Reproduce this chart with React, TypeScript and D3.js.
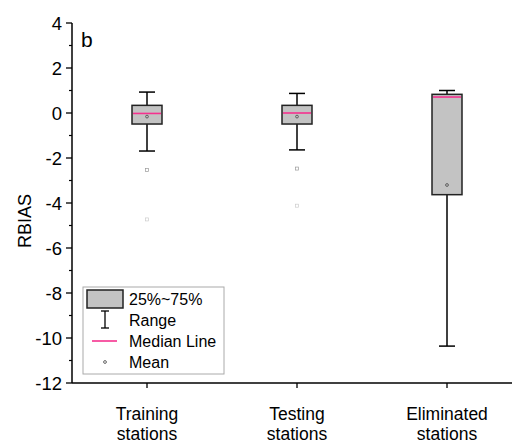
import React, { useRef, useEffect } from 'react';
import * as d3 from 'd3';

// Box statistics (RBIAS)
const categories = ['Training stations', 'Testing stations', 'Eliminated stations'];
const q1 = [-0.49, -0.49, -3.63];
const q3 = [0.34, 0.34, 0.83];
const medians = [-0.02, 0.0, 0.71];
const whiskerLow = [-1.69, -1.64, -10.36];
const whiskerHigh = [0.93, 0.87, 1.0];
const means = [-0.16, -0.16, -3.2];
// faint extreme markers (1% / min points)
const extremes = [[-2.53, -4.73], [-2.47, -4.12], []];

const yTicks = [4, 2, 0, -2, -4, -6, -8, -10, -12];
const yMinorTicks = [3, 1, -1, -3, -5, -7, -9, -11];

const W = 512;
const H = 443;
const FONT = 'Liberation Sans, Arial, sans-serif';
const PINK = '#f5318f';
const BOXFILL = '#c3c3c3';

const App: React.FC = () => {
  const ref = useRef<SVGSVGElement | null>(null);

  useEffect(() => {
    if (!ref.current) return;
    const svg = d3.select<SVGSVGElement, unknown>(ref.current);
    svg.selectAll('*').remove();

    const left = 72;
    const bottom = 383;

    const y = d3.scaleLinear().domain([-12, 4]).range([bottom, 23]);
    const x = d3.scaleBand<string>().domain(categories).range([left, left + 450]);
    const boxW = 30;

    const g = svg.append('g');

    // Y axis
    g.append('line')
      .attr('x1', left).attr('x2', left)
      .attr('y1', y(4)).attr('y2', bottom)
      .attr('stroke', '#000').attr('stroke-width', 1.5);
    yTicks.forEach(t => {
      g.append('line')
        .attr('x1', left - 6).attr('x2', left)
        .attr('y1', y(t)).attr('y2', y(t))
        .attr('stroke', '#000').attr('stroke-width', 1.3);
      g.append('text')
        .attr('x', left - 10).attr('y', y(t))
        .attr('dy', '0.36em')
        .attr('text-anchor', 'end')
        .style('font-family', FONT).style('font-size', '18.5px')
        .text(t.toString());
    });
    yMinorTicks.forEach(t => {
      g.append('line')
        .attr('x1', left - 3).attr('x2', left)
        .attr('y1', y(t)).attr('y2', y(t))
        .attr('stroke', '#000').attr('stroke-width', 1.2);
    });

    // X axis
    g.append('line')
      .attr('x1', left).attr('x2', W)
      .attr('y1', bottom).attr('y2', bottom)
      .attr('stroke', '#000').attr('stroke-width', 1.5);
    categories.forEach(c => {
      const cx = x(c)! + x.bandwidth() / 2;
      g.append('line')
        .attr('x1', cx).attr('x2', cx)
        .attr('y1', bottom).attr('y2', bottom + 5)
        .attr('stroke', '#000').attr('stroke-width', 1.3);
      const words = c.split(' ');
      words.forEach((w, i) => {
        g.append('text')
          .attr('x', cx).attr('y', 420 + i * 20)
          .attr('text-anchor', 'middle')
          .style('font-family', FONT).style('font-size', '17.5px')
          .text(w);
      });
    });

    // Y label
    g.append('text')
      .attr('transform', `translate(31, ${y(-4.8)}) rotate(-90)`)
      .attr('text-anchor', 'middle')
      .style('font-family', FONT).style('font-size', '18px')
      .text('RBIAS');

    // Panel letter
    g.append('text')
      .attr('x', 81).attr('y', 47)
      .style('font-family', FONT).style('font-size', '21px')
      .text('b');

    // Boxes
    categories.forEach((c, i) => {
      const cx = x(c)! + x.bandwidth() / 2;
      // whisker
      g.append('line')
        .attr('x1', cx).attr('x2', cx)
        .attr('y1', y(whiskerHigh[i])).attr('y2', y(whiskerLow[i]))
        .attr('stroke', '#000').attr('stroke-width', 1.5);
      [whiskerHigh[i], whiskerLow[i]].forEach(v => {
        g.append('line')
          .attr('x1', cx - 8).attr('x2', cx + 8)
          .attr('y1', y(v)).attr('y2', y(v))
          .attr('stroke', '#000').attr('stroke-width', 1.5);
      });
      g.append('rect')
        .attr('x', cx - boxW / 2).attr('width', boxW)
        .attr('y', y(q3[i])).attr('height', y(q1[i]) - y(q3[i]))
        .attr('fill', BOXFILL).attr('stroke', '#222').attr('stroke-width', 1.5);
      g.append('line')
        .attr('x1', cx - boxW / 2 + 1).attr('x2', cx + boxW / 2 - 1)
        .attr('y1', y(medians[i])).attr('y2', y(medians[i]))
        .attr('stroke', PINK).attr('stroke-width', 1.6);
      g.append('circle')
        .attr('cx', cx).attr('cy', y(means[i])).attr('r', 1.4)
        .attr('fill', 'none').attr('stroke', '#555').attr('stroke-width', 0.9);
      extremes[i].forEach((v, k) => {
        g.append('rect')
          .attr('x', cx - 1.5).attr('y', y(v) - 1.5)
          .attr('width', 3).attr('height', 3)
          .attr('fill', 'none')
          .attr('stroke', k === 0 ? '#999' : '#ccc').attr('stroke-width', 0.7);
      });
    });

    // Legend
    const lg = g.append('g');
    lg.append('rect')
      .attr('x', 83).attr('y', 287).attr('width', 141).attr('height', 87)
      .attr('fill', '#fff').attr('stroke', '#aaa').attr('stroke-width', 1);
    lg.append('rect')
      .attr('x', 87).attr('y', 290).attr('width', 36).attr('height', 18)
      .attr('fill', BOXFILL).attr('stroke', '#222').attr('stroke-width', 1.5);
    lg.append('line').attr('x1', 105).attr('x2', 105).attr('y1', 311).attr('y2', 328)
      .attr('stroke', '#000').attr('stroke-width', 1.3);
    [311, 328].forEach(yy => {
      lg.append('line').attr('x1', 101).attr('x2', 109).attr('y1', yy).attr('y2', yy)
        .attr('stroke', '#000').attr('stroke-width', 1.3);
    });
    lg.append('line').attr('x1', 92).attr('x2', 117).attr('y1', 341).attr('y2', 341)
      .attr('stroke', PINK).attr('stroke-width', 1.6);
    lg.append('circle').attr('cx', 105).attr('cy', 362).attr('r', 1.4)
      .attr('fill', 'none').attr('stroke', '#555').attr('stroke-width', 0.9);
    const labels = ['25%~75%', 'Range', 'Median Line', 'Mean'];
    const ly = [305, 326, 347, 368];
    labels.forEach((l, i) => {
      lg.append('text')
        .attr('x', 129).attr('y', ly[i])
        .style('font-family', FONT).style('font-size', '16px')
        .text(l);
    });
  }, []);

  return <svg ref={ref} width={W} height={H} style={{ position: 'absolute', left: 0, top: 0 }} />;
};

export default App;
